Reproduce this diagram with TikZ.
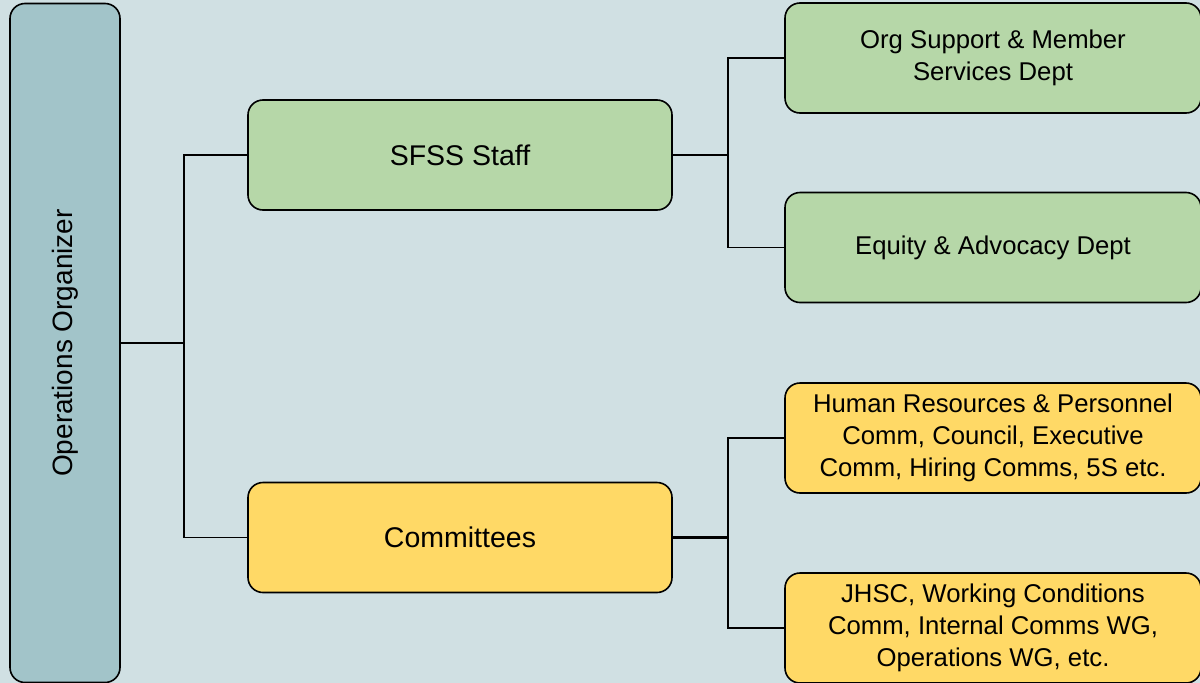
\documentclass[tikz,border=0pt]{standalone}
\usepackage{fontspec}
\setmainfont{Liberation Sans}
\definecolor{bgc}{HTML}{D0E0E3}
\definecolor{leftc}{HTML}{A2C4C9}
\definecolor{greenc}{HTML}{B6D7A8}
\definecolor{yellowc}{HTML}{FFD966}
\begin{document}
\begin{tikzpicture}[x=1pt,y=-1pt,
  box/.style={draw=black,line width=1.6pt,rounded corners=15pt,minimum width=424pt,minimum height=110pt,inner sep=0pt,align=center,font=\fontsize{28.5}{32}\selectfont},
  rbox/.style={box,minimum width=416pt,font=\fontsize{25.7}{32}\selectfont},
  conn/.style={draw=black,line width=1.4pt},
  stem/.style={draw=black,line width=2.2pt}]
\useasboundingbox (0,0) rectangle (1200,683);
\fill[bgc] (0,0) rectangle (1200,683);
\node[box,fill=leftc,minimum width=110pt,minimum height=679pt] (op) at (65,343) {};
\node[rotate=90,font=\fontsize{28}{32}\selectfont] (optext) at (op.center) {Operations Organizer};
\node[box,fill=greenc] (sfss) at (460,155) {SFSS Staff};
\node[box,fill=yellowc] (comm) at (460,537.5) {Committees};
\node[rbox,fill=greenc] (org) at (993,58) {Org Support \& Member\\Services Dept};
\node[rbox,fill=greenc] (eq) at (993,247.5) {Equity \& Advocacy Dept};
\node[rbox,fill=yellowc] (hr) at (993,438) {Human Resources \& Personnel\\Comm, Council, Executive\\Comm, Hiring Comms, 5S etc.};
\node[rbox,fill=yellowc] (jh) at (993,628) {JHSC, Working Conditions\\Comm, Internal Comms WG,\\Operations WG, etc.};
\draw[stem,line width=2.4pt] (op.east) -- (184,343);
\draw[conn] (sfss.west) -| (184,343) |- (comm.west);
\draw[stem] (sfss.east) -- (728,155);
\draw[conn] (org.west) -| (728,155) |- (eq.west);
\draw[stem] (comm.east) -- (728,537.5);
\draw[conn] (hr.west) -| (728,537.5) |- (jh.west);
\end{tikzpicture}
\end{document}
